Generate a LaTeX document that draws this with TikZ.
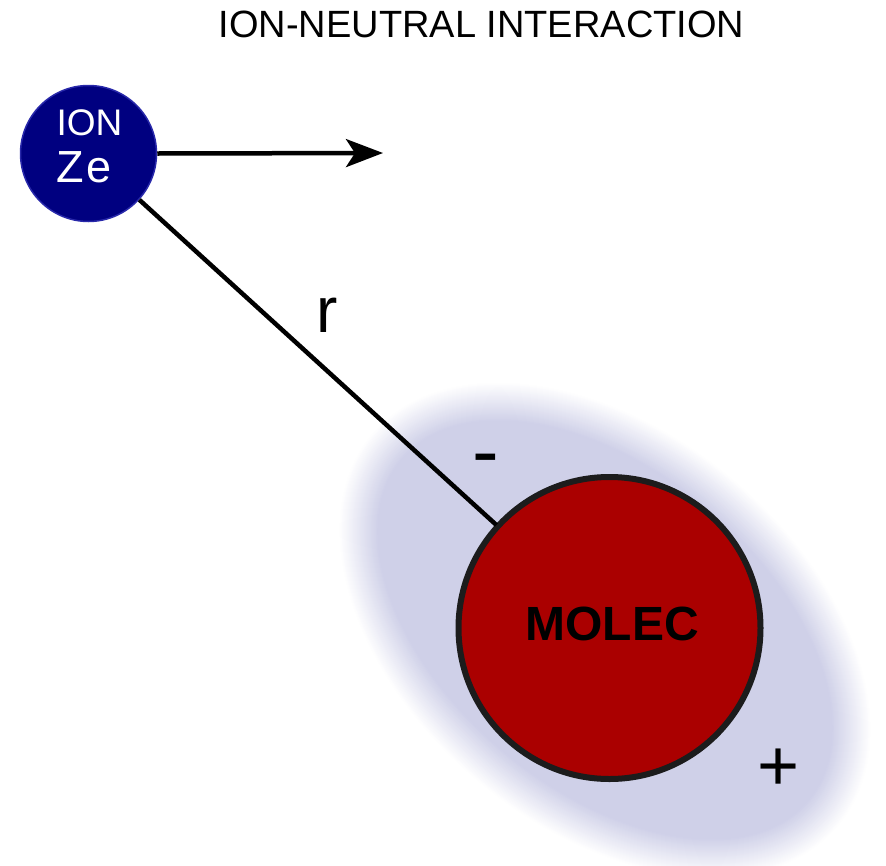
\documentclass[tikz,border=0pt]{standalone}
\usepackage{fontspec}
\setmainfont{Liberation Sans}
\usetikzlibrary{arrows.meta}
\definecolor{ionblue}{RGB}{0,0,128}
\definecolor{ionedge}{RGB}{40,40,170}
\definecolor{molred}{RGB}{170,0,0}
\definecolor{moledge}{RGB}{28,28,28}
\definecolor{cloud}{RGB}{207,208,232}
\newcommand{\fsz}[1]{\fontsize{#1}{#1}\selectfont}
\tikzset{
  txt/.style={inner sep=0pt, outer sep=0pt, anchor=base},
  bond/.style={line width=4.5pt, black},
}
\begin{document}
\begin{tikzpicture}[x=1pt,y=-1pt]
  \useasboundingbox (0,0) rectangle (886,865);
  \fill[white] (0,0) rectangle (886,865);

  % soft polarisation cloud around the molecule
  \begin{scope}[shift={(605,630)}, rotate=-40]
    \foreach \i in {0,...,40}{
      \pgfmathsetmacro{\ax}{305-\i}
      \pgfmathsetmacro{\by}{198-\i}
      \pgfmathsetmacro{\mix}{\i*100/40}
      \fill[cloud!\mix!white] (0,0) ellipse [x radius=\ax, y radius=\by];
    }
  \end{scope}

  % title
  \node[txt] (title) at (481.5,37) {\fsz{38}ION-NEUTRAL INTERACTION};

  % ion
  \node[circle, fill=ionblue, draw=ionedge, line width=1.5pt,
        minimum size=136pt, inner sep=0pt] (ion) at (88.5,153.5) {};
  \node[txt, white] (ionlbl) at (89.5,135) {\fsz{37}ION};
  \node[txt, white] (zelbl) at (84,182) {\fsz{45}Z\kern2pt e};

  % molecule
  \node[circle, fill=molred, draw=moledge, line width=6pt,
        minimum size=302pt, inner sep=0pt] (molec) at (609.5,628) {};
  \node[txt] (moleclbl) at (612,640) {\fsz{48}\bfseries MOLEC};

  % ion velocity and separation
  \coordinate (tip) at (383,153);
  \draw[bond, -{Stealth[length=37pt, width=28pt, inset=9pt]}] (ion.east) -- (tip);
  \draw[bond, shorten >=-1pt] (ion) -- (molec);

  % labels
  \node[txt] (rlbl) at (327,332) {\fsz{64}r};
  \node[txt] (minus) at (485.5,478) {\fsz{80}-};
  \node[txt] (plus) at (778.5,790) {\fsz{72}+};
\end{tikzpicture}
\end{document}
